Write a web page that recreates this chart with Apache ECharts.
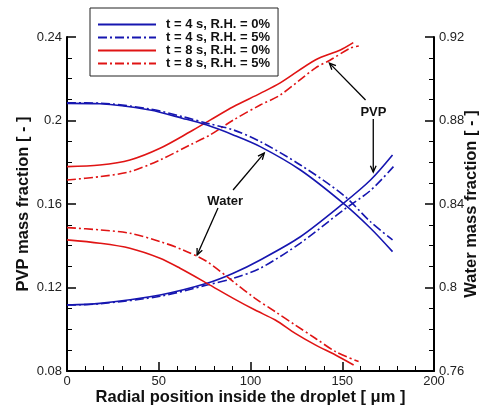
<!DOCTYPE html>
<html><head><meta charset="utf-8">
<script src="https://cdn.jsdelivr.net/npm/echarts@6/dist/echarts.min.js"></script>
<style>html,body{margin:0;padding:0;background:#fff}#c{width:483px;height:410px}</style>
</head><body><div id="c"></div>
<script>
// Legend / series names
const seriesNames = ['t = 4 s, R.H. = 0%', 't = 4 s, R.H. = 5%', 't = 8 s, R.H. = 0%', 't = 8 s, R.H. = 5%'];

// PVP mass fraction (left axis)
const pvp4rh0X = [0, 17.9, 50.7, 76.3, 90.6, 105.3, 127.2, 150.6, 165.4, 177.4];
const pvp4rh0Y = [0.1116, 0.1124, 0.1164, 0.122, 0.1268, 0.1332, 0.1443, 0.1603, 0.1715, 0.1835];
const pvp4rh5X = [0, 17.9, 50.7, 76.3, 90.6, 105.3, 127.2, 150.6, 165.4, 177.9];
const pvp4rh5Y = [0.1116, 0.1122, 0.1158, 0.1212, 0.1244, 0.1292, 0.1413, 0.1571, 0.1665, 0.1779];
const pvp8rh0X = [0, 17.9, 34.3, 50.7, 67.1, 78, 90.6, 105.3, 116.2, 135.3, 149, 156];
const pvp8rh0Y = [0.1779, 0.1787, 0.1811, 0.1867, 0.1946, 0.2002, 0.2066, 0.2130, 0.2180, 0.2290, 0.2338, 0.2373];
const pvp8rh5X = [0, 17.9, 34.3, 50.7, 67.1, 78, 90.6, 105.3, 116.2, 135.3, 143.5, 154.5, 159];
const pvp8rh5Y = [0.1715, 0.1731, 0.1755, 0.1811, 0.1883, 0.1931, 0.2002, 0.2074, 0.2122, 0.2251, 0.2290, 0.2347, 0.2357];

// Water mass fraction (right axis)
const wat4rh0X = [0, 17.9, 45.2, 63.2, 76.3, 90.6, 105.3, 127.2, 150.6, 165.4, 177.4];
const wat4rh0Y = [0.8882, 0.8880, 0.8850, 0.8810, 0.8778, 0.8731, 0.8675, 0.8563, 0.8403, 0.8284, 0.8172];
const wat4rh5X = [0, 17.9, 45.2, 63.2, 76.3, 90.6, 105.3, 127.2, 150.6, 165.4, 177.4];
const wat4rh5Y = [0.8885, 0.8883, 0.8855, 0.8818, 0.8787, 0.8755, 0.8699, 0.8587, 0.8443, 0.8315, 0.8228];
const wat8rh0X = [0, 17.9, 34.3, 50.7, 61.6, 76.3, 90.6, 102.5, 113.5, 124.4, 135.3, 146.3, 156.2];
const wat8rh0Y = [0.8228, 0.8212, 0.8188, 0.8140, 0.8092, 0.8020, 0.7948, 0.7892, 0.7844, 0.7780, 0.7725, 0.7677, 0.7629];
const wat8rh5X = [0, 17.9, 34.3, 50.7, 63.2, 76.3, 90.6, 102.5, 113.5, 124.4, 135.3, 146.3, 158.9];
const wat8rh5Y = [0.8287, 0.8276, 0.8260, 0.8220, 0.8180, 0.8124, 0.8028, 0.7948, 0.7884, 0.7820, 0.7757, 0.7693, 0.7645];

// Axis ranges / ticks
const xTicks = [0, 50, 100, 150, 200];
const leftTicks = [0.08, 0.12, 0.16, 0.2, 0.24];
const rightTicks = [0.76, 0.8, 0.84, 0.88, 0.92];

// Annotations (data coords on left axis)
const annoTexts = ['PVP', 'Water'];
const annoTextPos = [[167, 0.2041], [86.2, 0.161]];
const arrows = [
  [[162.7, 0.2098], [143, 0.2275]],
  [[166.9, 0.2007], [166.9, 0.1753]],
  [[90.5, 0.1667], [107.5, 0.1844]],
  [[82.3, 0.1581], [70.9, 0.1356]]
];

const BLUE = '#1616b0', RED = '#e01414';
const DASHDOT = [9, 3, 2, 3];
const FONT = 'Liberation Sans, Arial, sans-serif';
function zip(a, b) { return a.map((v, i) => [v, b[i]]); }
function ser(name, xs, ys, color, dash, yIdx) {
  return {
    name: name, type: 'line', yAxisIndex: yIdx, data: zip(xs, ys),
    symbol: 'none', smooth: 0.3, color: color,
    lineStyle: { color: color, width: 1.6, type: dash ? DASHDOT : 'solid' },
    z: 3, animation: false
  };
}
const lbl = { color: '#222', fontSize: 13, fontFamily: FONT };
const nameStyle = { fontWeight: 'bold', fontSize: 16.5, color: '#111', fontFamily: FONT };
function yAx(pos, ticks, name, gap) {
  return {
    type: 'value', position: pos, min: ticks[0], max: ticks[ticks.length - 1], interval: 0.04,
    name: name, nameLocation: 'middle', nameGap: gap, nameRotate: 90, nameTextStyle: nameStyle,
    nameMoveOverlap: false,
    axisLine: { show: true, lineStyle: { color: '#000', width: 2 } },
    axisTick: { show: true, inside: true, length: 9, lineStyle: { color: '#000', width: 1.5 } },
    minorTick: { show: true, splitNumber: 4, length: 5, lineStyle: { color: '#000', width: 1 } },
    splitLine: { show: false },
    axisLabel: Object.assign({ margin: 5, showMinLabel: true, showMaxLabel: true,
      formatter: v => String(parseFloat(v.toFixed(2))) }, lbl)
  };
}
const chart = echarts.init(document.getElementById('c'), null, { renderer: 'canvas' });
chart.setOption({
  animation: false,
  backgroundColor: '#fff',
  grid: { left: 67, right: 49, top: 37, bottom: 39, containLabel: false, outerBoundsMode: 'none' },
  legend: {
    data: seriesNames, orient: 'vertical', left: 90, top: 8,
    itemWidth: 58, itemHeight: 8, itemGap: 0,
    padding: [10, 8, 6, 7],
    borderColor: '#222', borderWidth: 1,
    itemStyle: { opacity: 0 },
    textStyle: { fontWeight: 'bold', fontSize: 13, lineHeight: 12, color: '#111', fontFamily: FONT, padding: [0, 0, 0, 5] }
  },
  xAxis: {
    type: 'value', min: xTicks[0], max: xTicks[xTicks.length - 1], interval: 50,
    name: 'Radial position inside the droplet [ μm ]', nameLocation: 'middle', nameGap: 18,
    nameTextStyle: nameStyle, nameMoveOverlap: false,
    axisLine: { show: true, lineStyle: { color: '#000', width: 2 } },
    axisTick: { show: true, inside: true, length: 9, lineStyle: { color: '#000', width: 1.5 } },
    minorTick: { show: true, splitNumber: 5, length: 5, lineStyle: { color: '#000', width: 1 } },
    splitLine: { show: false },
    axisLabel: Object.assign({ margin: 4, showMinLabel: true, showMaxLabel: true }, lbl)
  },
  yAxis: [
    yAx('left', leftTicks, 'PVP mass fraction [ - ]', 35),
    yAx('right', rightTicks, 'Water mass fraction [ - ]', 29)
  ],
  series: [
    ser(seriesNames[0], pvp4rh0X, pvp4rh0Y, BLUE, false, 0),
    ser(seriesNames[1], pvp4rh5X, pvp4rh5Y, BLUE, true, 0),
    ser(seriesNames[2], pvp8rh0X, pvp8rh0Y, RED, false, 0),
    ser(seriesNames[3], pvp8rh5X, pvp8rh5Y, RED, true, 0),
    ser(seriesNames[0], wat4rh0X, wat4rh0Y, BLUE, false, 1),
    ser(seriesNames[1], wat4rh5X, wat4rh5Y, BLUE, true, 1),
    ser(seriesNames[2], wat8rh0X, wat8rh0Y, RED, false, 1),
    ser(seriesNames[3], wat8rh5X, wat8rh5Y, RED, true, 1)
  ]
});

// Annotations via graphic, positioned through the chart's own scales
const g = [];
const toPx = p => chart.convertToPixel({ xAxisIndex: 0, yAxisIndex: 0 }, p);
arrows.forEach(a => {
  const p0 = toPx(a[0]), p1 = toPx(a[1]);
  const ang = Math.atan2(p1[1] - p0[1], p1[0] - p0[0]);
  const L = 7, w = 0.42;
  const h1 = [p1[0] - L * Math.cos(ang - w), p1[1] - L * Math.sin(ang - w)];
  const h2 = [p1[0] - L * Math.cos(ang + w), p1[1] - L * Math.sin(ang + w)];
  g.push({ type: 'line', shape: { x1: p0[0], y1: p0[1], x2: p1[0], y2: p1[1] }, style: { stroke: '#000', lineWidth: 1.3 }, z: 10 });
  g.push({ type: 'polyline', shape: { points: [h1, p1, h2] }, style: { stroke: '#000', lineWidth: 1.3, fill: null }, z: 10 });
});
annoTexts.forEach((t, i) => {
  const p = toPx(annoTextPos[i]);
  g.push({ type: 'text', x: p[0], y: p[1], style: { text: t, fill: '#111', font: 'bold 13px "Liberation Sans", Arial, sans-serif', align: 'center', verticalAlign: 'middle' }, z: 10 });
});
chart.setOption({ graphic: g });
</script></body></html>
